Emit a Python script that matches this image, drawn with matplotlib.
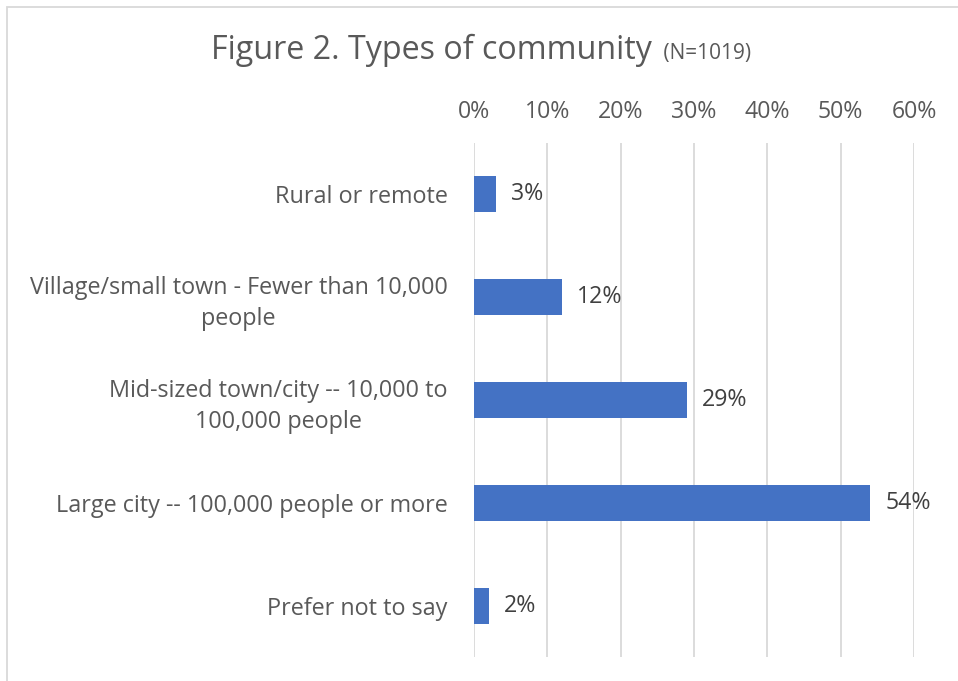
import matplotlib.pyplot as plt
from matplotlib.patches import Rectangle
from matplotlib.ticker import FuncFormatter

categories = [
    "Rural or remote",
    "Village/small town - Fewer than 10,000\npeople",
    "Mid-sized town/city -- 10,000 to\n100,000 people",
    "Large city -- 100,000 people or more",
    "Prefer not to say",
]
shares = [3, 12, 29, 54, 2]
ticks = [0, 10, 20, 30, 40, 50, 60]

bar_color = "#4472C4"
text_color = "#595959"
grid_color = "#D9D9D9"

plt.rcParams["font.family"] = ["Open Sans", "DejaVu Sans"]

fig = plt.figure(figsize=(9.58, 6.81), dpi=100)
ax = fig.add_axes([474 / 958, 1 - 657 / 681, 440 / 958, 514 / 681])

y = list(range(len(categories)))
ax.barh(y, shares, height=0.35, color=bar_color, zorder=3)
for yi, v in zip(y, shares):
    ax.text(v + 2.1, yi, f"{v}%", va="center", ha="left",
            fontsize=16.7, color="#404040")

ax.set_ylim(len(categories) - 0.5, -0.5)
ax.set_xlim(0, 60)
ax.set_yticks(y)
ax.set_yticklabels(categories, fontsize=16.8, color=text_color,
                   ha="right", multialignment="center", linespacing=1.4)
ax.set_xticks(ticks)
ax.xaxis.set_major_formatter(FuncFormatter(lambda v, _: f"{v:.0f}%"))
ax.xaxis.tick_top()
ax.tick_params(axis="x", length=0, pad=14, labelsize=16.7, labelcolor=text_color)
ax.tick_params(axis="y", length=0, pad=19)
ax.grid(axis="x", color=grid_color, linewidth=1.3, zorder=0)
for s in ax.spines.values():
    s.set_visible(False)

# title in two sizes
fig.text(652 / 958, 1 - 50 / 681, "Figure 2. Types of community", ha="right",
         va="center", fontsize=23.2, color=text_color)
fig.text(658 / 958, 1 - 54 / 681, " (N=1019)", ha="left", va="center",
         fontsize=15, color=text_color)

# chart frame, only top and left edges fall inside the image
fig.patches.append(Rectangle((7 / 958, -0.1), 1.2, 1.1 - 7 / 681,
                             transform=fig.transFigure, fill=False,
                             edgecolor="#D9D9D9", linewidth=1.3))

fig.savefig("out.png", dpi=100)
